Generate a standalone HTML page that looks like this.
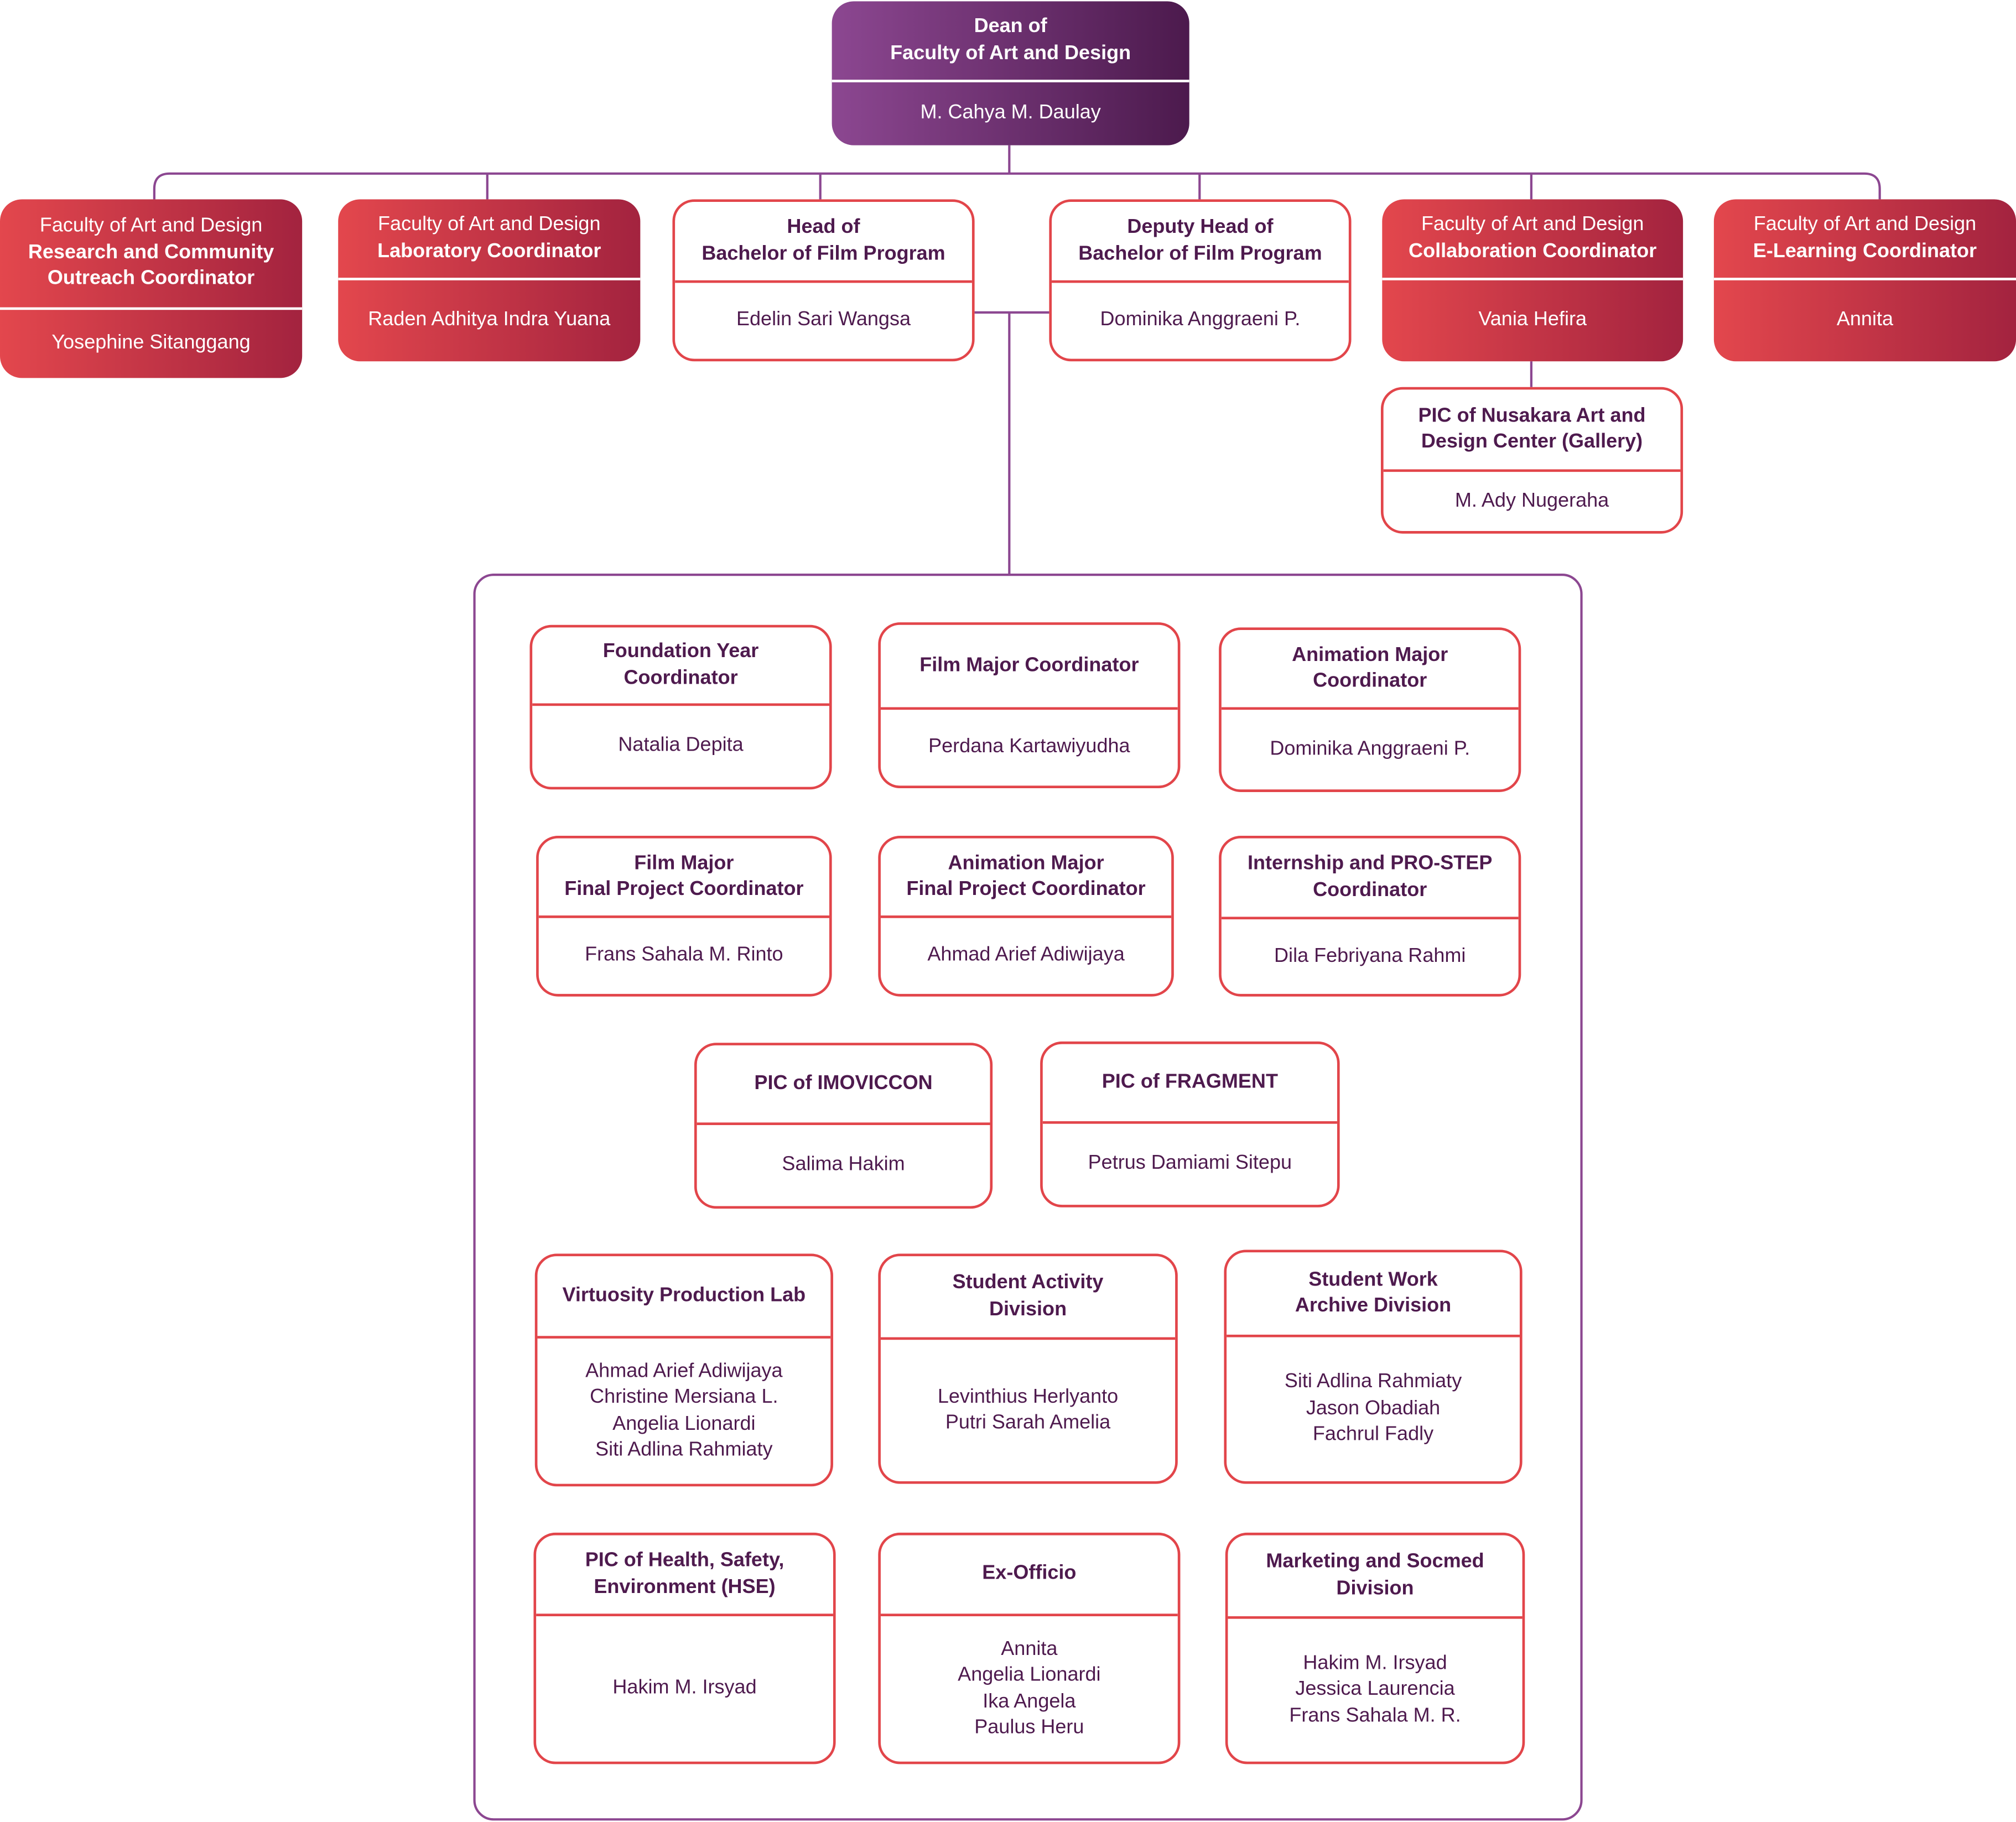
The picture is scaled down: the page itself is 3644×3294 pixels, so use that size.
<!DOCTYPE html>
<html><head><meta charset="utf-8"><style>
html,body{margin:0;padding:0;background:#fff;}
body{width:3644px;height:3294px;overflow:hidden;position:relative;}
#w{position:absolute;left:0;top:0;width:1568px;height:1417px;transform:scale(2.324,2.3246);transform-origin:0 0;font-family:"Liberation Sans",sans-serif;}
.b{position:absolute;box-sizing:border-box;border-radius:17px;overflow:hidden;display:flex;flex-direction:column;}
.w{background:#fff;border:2px solid #e2454a;color:#4e1a4e;}
.w .t{border-bottom:2px solid #e2454a;}
.r{background:linear-gradient(90deg,#e3474d,#a3233f);color:#fff;}
.r .t{border-bottom:2px solid #fff;}
.p{background:linear-gradient(90deg,#8c4791,#4c1a4d);color:#fff;}
.p .t{border-bottom:2px solid #fff;}
.t,.n{display:flex;align-items:center;justify-content:center;text-align:center;font-size:15.5px;line-height:20.5px;box-sizing:border-box;}
.t{font-weight:bold;flex:none;}
.n{flex:1;}
.t span.l{font-weight:normal;}
svg{position:absolute;left:0;top:0;}
</style></head><body><div id="w">
<svg width="1568" height="1417" fill="none" stroke="#8c4791" stroke-width="1.8">
<path d="M785 113V135"/>
<path d="M120 155V147Q120 135 132 135H1450Q1462 135 1462 147V155"/>
<path d="M379 135V155M638 135V155M933 135V155M1191 135V155"/>
<path d="M1191 281V301"/>
<path d="M758 243H816M785 243V447"/>
<rect x="369" y="447" width="861" height="968" rx="15"/>
</svg>

<div class="b p" style="left:647px;top:1px;width:278px;height:112px"><div class="t" style="height:63px">Dean of<br>Faculty of Art and Design</div><div class="n">M. Cahya M. Daulay</div></div>

<div class="b r" style="left:0;top:155px;width:235px;height:139px"><div class="t" style="height:86px"><div><span class="l">Faculty of Art and Design</span><br>Research and Community<br>Outreach Coordinator</div></div><div class="n">Yosephine Sitanggang</div></div>
<div class="b r" style="left:263px;top:155px;width:235px;height:126px"><div class="t" style="height:63px"><div><span class="l">Faculty of Art and Design</span><br>Laboratory Coordinator</div></div><div class="n">Raden Adhitya Indra Yuana</div></div>
<div class="b w" style="left:523px;top:155px;width:235px;height:126px"><div class="t" style="height:63px">Head of<br>Bachelor of Film Program</div><div class="n">Edelin Sari Wangsa</div></div>
<div class="b w" style="left:816px;top:155px;width:235px;height:126px"><div class="t" style="height:63px">Deputy Head of<br>Bachelor of Film Program</div><div class="n">Dominika Anggraeni P.</div></div>
<div class="b r" style="left:1075px;top:155px;width:234px;height:126px"><div class="t" style="height:63px"><div><span class="l">Faculty of Art and Design</span><br>Collaboration Coordinator</div></div><div class="n">Vania Hefira</div></div>
<div class="b r" style="left:1333px;top:155px;width:235px;height:126px"><div class="t" style="height:63px"><div><span class="l">Faculty of Art and Design</span><br>E-Learning Coordinator</div></div><div class="n">Annita</div></div>
<div class="b w" style="left:1074px;top:301px;width:235px;height:114px"><div class="t" style="height:64px">PIC of Nusakara Art and<br>Design Center (Gallery)</div><div class="n">M. Ady Nugeraha</div></div>

<div class="b w" style="left:412px;top:486px;width:235px;height:128px"><div class="t" style="height:61px">Foundation Year<br>Coordinator</div><div class="n">Natalia Depita</div></div>
<div class="b w" style="left:683px;top:484px;width:235px;height:129px"><div class="t" style="height:66px">Film Major Coordinator</div><div class="n">Perdana Kartawiyudha</div></div>
<div class="b w" style="left:948px;top:488px;width:235px;height:128px"><div class="t" style="height:62px">Animation Major<br>Coordinator</div><div class="n">Dominika Anggraeni P.</div></div>

<div class="b w" style="left:417px;top:650px;width:230px;height:125px"><div class="t" style="height:62px">Film Major<br>Final Project Coordinator</div><div class="n">Frans Sahala M. Rinto</div></div>
<div class="b w" style="left:683px;top:650px;width:230px;height:125px"><div class="t" style="height:62px">Animation Major<br>Final Project Coordinator</div><div class="n">Ahmad Arief Adiwijaya</div></div>
<div class="b w" style="left:948px;top:650px;width:235px;height:125px"><div class="t" style="height:63px">Internship and PRO-STEP<br>Coordinator</div><div class="n">Dila Febriyana Rahmi</div></div>

<div class="b w" style="left:540px;top:811px;width:232px;height:129px"><div class="t" style="height:62px">PIC of IMOVICCON</div><div class="n">Salima Hakim</div></div>
<div class="b w" style="left:809px;top:810px;width:233px;height:129px"><div class="t" style="height:62px">PIC of FRAGMENT</div><div class="n">Petrus Damiami Sitepu</div></div>

<div class="b w" style="left:416px;top:975px;width:232px;height:181px"><div class="t" style="height:64px">Virtuosity Production Lab</div><div class="n">Ahmad Arief Adiwijaya<br>Christine Mersiana L.<br>Angelia Lionardi<br>Siti Adlina Rahmiaty</div></div>
<div class="b w" style="left:683px;top:975px;width:233px;height:179px"><div class="t" style="height:65px">Student Activity<br>Division</div><div class="n">Levinthius Herlyanto<br>Putri Sarah Amelia</div></div>
<div class="b w" style="left:952px;top:972px;width:232px;height:182px"><div class="t" style="height:66px">Student Work<br>Archive Division</div><div class="n">Siti Adlina Rahmiaty<br>Jason Obadiah<br>Fachrul Fadly</div></div>

<div class="b w" style="left:415px;top:1192px;width:235px;height:180px"><div class="t" style="height:63px">PIC of Health, Safety,<br>Environment (HSE)</div><div class="n">Hakim M. Irsyad</div></div>
<div class="b w" style="left:683px;top:1192px;width:235px;height:180px"><div class="t" style="height:63px">Ex-Officio</div><div class="n">Annita<br>Angelia Lionardi<br>Ika Angela<br>Paulus Heru</div></div>
<div class="b w" style="left:953px;top:1192px;width:233px;height:180px"><div class="t" style="height:65px">Marketing and Socmed<br>Division</div><div class="n">Hakim M. Irsyad<br>Jessica Laurencia<br>Frans Sahala M. R.</div></div>
</div></body></html>
